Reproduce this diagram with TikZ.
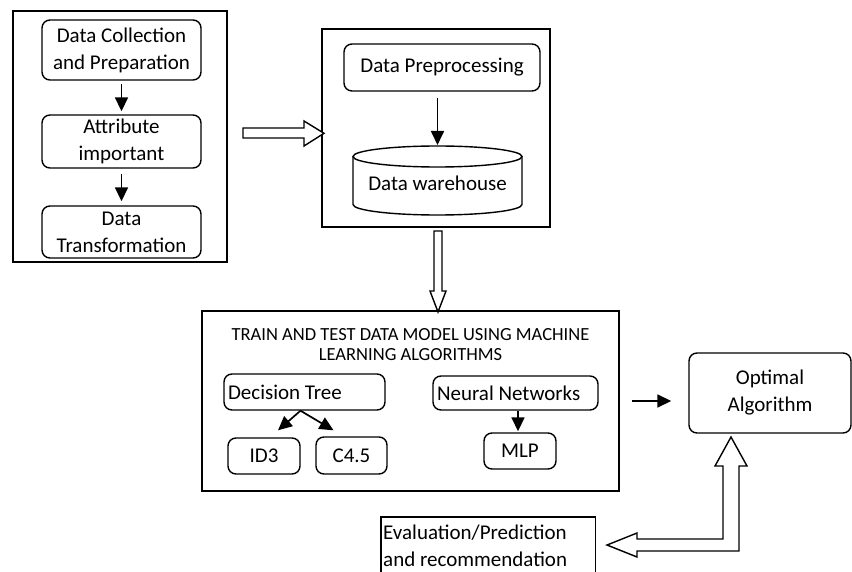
\documentclass[tikz,border=0pt]{standalone}
\usepackage{fontspec}
\setmainfont{Carlito}
\usetikzlibrary{arrows.meta,positioning,calc}

\begin{document}
\begin{tikzpicture}[x=1pt,y=-1pt,
		frame/.style={draw, line width=1.6pt, inner sep=0pt},
		rbox/.style={draw, line width=1.4pt, rounded corners=8pt, inner sep=0pt, align=center, font=\fontsize{21}{27}\selectfont},
		arr/.style={line width=1.7pt, -{Triangle[length=14pt,width=13pt]}},
		hollow/.style={draw, line width=1.4pt, fill=white, line join=miter}]
		\useasboundingbox (0,0) rectangle (852,572);
		\clip (0,0) rectangle (852,572);
		% left block
		\node[frame, minimum width=214pt, minimum height=251pt] (gather) at (120,136.5) {};
		\node[rbox, minimum width=159pt, minimum height=60pt] (collect) at (121.5,50) {Data Collection\\and Preparation};
		\node[rbox, minimum width=159pt, minimum height=53pt] (attr) at (121.5,141.5) {Attribute\\important};
		\node[rbox, minimum width=159pt, minimum height=52pt] (transf) at (121.5,232) {Data\\Transformation};
		\draw[arr, shorten <=3pt, shorten >=3pt] (collect) -- (attr);
		\draw[arr, shorten <=5pt, shorten >=4pt] (attr) -- (transf);
		% middle block
		\node[frame, minimum width=228pt, minimum height=198pt] (store) at (436,128) {};
		\node[rbox, minimum width=196pt, minimum height=47pt] (prep) at (442,67.5) {Data Preprocessing};
		\draw[line width=1.4pt] (353,156.5) -- (353,204.5) arc[start angle=180, end angle=0, x radius=84.5, y radius=10.5] -- (522,156.5);
		\draw[line width=1.4pt] (437.5,156.5) ellipse [x radius=84.5, y radius=10.5];
		\coordinate (whtop) at (437.5,146);
		\node[inner sep=0pt, font=\fontsize{21}{27}\selectfont] (wh) at (437.5,183) {Data warehouse};
		\draw[arr, shorten <=6pt, shorten >=1pt] (prep.south -| whtop) -- (whtop);
		% hollow arrows
		\draw[hollow] (243,128) -- (304,128) -- (304,121) -- (324,133.3) -- (304,146) -- (304,138) -- (243,138) -- cycle;
		\draw[hollow] (434,231) -- (434,291) -- (430,291) -- (438,312) -- (446,291) -- (442,291) -- (442,231) -- cycle;
		% bottom block
		\node[frame, minimum width=417pt, minimum height=180pt] (train) at (410.5,401) {};
		\node[inner sep=0pt, align=center, font=\fontsize{18.5}{20}\selectfont] (title) at (410.5,345) {TRAIN AND TEST DATA MODEL USING MACHINE\\LEARNING ALGORITHMS};
		\node[rbox, align=flush left, text width=153pt, inner xsep=4pt, minimum height=36pt] (tree) at (304.5,392) {Decision Tree};
		\node[rbox, align=flush left, text width=157pt, inner xsep=4pt, minimum height=34pt] (nn) at (515.5,393) {Neural Networks};
		\node[rbox, minimum width=72pt, minimum height=36pt] (id3) at (264,456) {ID3};
		\node[rbox, minimum width=71pt, minimum height=37pt] (c45) at (351.5,455.5) {C4.5};
		\node[rbox, minimum width=72pt, minimum height=36pt] (mlp) at (520,451) {MLP};
		\draw[arr] ([xshift=-4pt]tree.south) -- ([xshift=14pt,yshift=7pt]id3.north);
		\draw[arr] ([xshift=-4pt]tree.south) -- ([xshift=-18pt,yshift=6pt]c45.north);
		\draw[arr, shorten >=1pt] ([xshift=2.5pt]nn.south) -- ([xshift=2.5pt]nn.south |- mlp.north);
		% result
		\node[rbox, minimum width=162pt, minimum height=80pt] (optimal) at (770,393) {Optimal\\Algorithm};
		\draw[arr, shorten <=12pt, shorten >=17pt] (train.east) -- (train.east -| optimal.west);
		\node[anchor=north west, minimum width=214pt, minimum height=70pt, inner sep=0pt] (evalbox) at (381,517) {};
		\node[anchor=north west, inner sep=0pt, align=flush left, font=\fontsize{21}{27}\selectfont] (evaltext) at (383,525) {Evaluation/Prediction\\and recommendation};
		\draw[line width=1.3pt] (evalbox.south west) -- (evalbox.north west) -- (evalbox.north east) -- (evalbox.south east);
		\draw[hollow] (739,551) -- (739,466) -- (747,466) -- (731,437) -- (715,466) -- (723,466) -- (723,539) -- (637,539) -- (637,533) -- (607,545) -- (637,557) -- (637,551) -- cycle;
	\end{tikzpicture}
\end{document}
